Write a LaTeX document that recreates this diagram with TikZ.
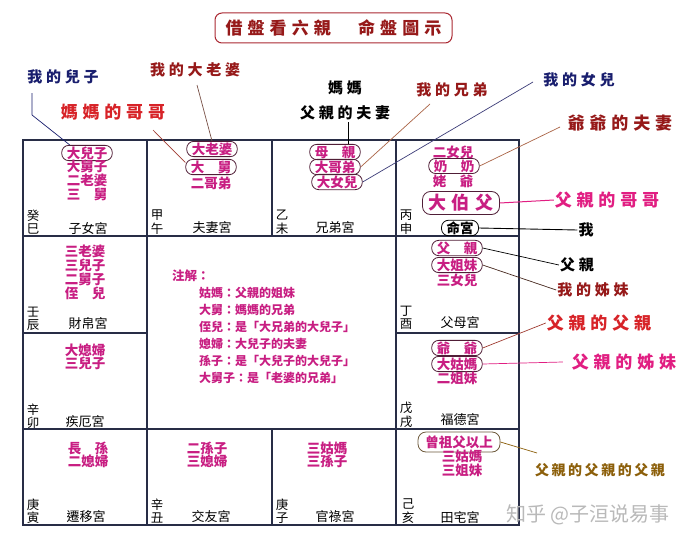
\documentclass[tikz,border=0pt]{standalone}
\usepackage{fontspec}
\setmainfont{Noto Sans CJK TC}
\usetikzlibrary{calc}
\definecolor{gridc}{RGB}{40,45,70}
\definecolor{kinc}{RGB}{200,30,130}
\definecolor{ovalc}{RGB}{80,30,55}
\definecolor{navyc}{RGB}{25,30,110}
\definecolor{dredc}{RGB}{150,25,25}
\definecolor{redc}{RGB}{215,35,40}
\definecolor{magc}{RGB}{225,30,130}
\definecolor{olivec}{RGB}{140,95,10}
\definecolor{wmc}{RGB}{185,185,185}
\definecolor{brownl}{RGB}{170,100,70}
\definecolor{titlec}{RGB}{170,40,50}
\definecolor{redl}{RGB}{160,60,50}
\definecolor{grayl}{RGB}{120,80,70}
\definecolor{navyl}{RGB}{60,60,120}
\definecolor{darkl}{RGB}{70,40,30}
\definecolor{zengc}{RGB}{110,90,60}
\tikzset{
 gridline/.style={draw=gridc, line width=1.4pt},
 stem/.style={font=\fontsize{12.5}{13.5}\selectfont, align=center, inner sep=0pt},
 palace/.style={font=\fontsize{13}{14}\selectfont, inner sep=0pt},
 kin/.style={font=\fontsize{13.5}{14}\selectfont\bfseries, text=kinc, inner sep=0pt},
 oval/.style={kin, draw=ovalc, line width=0.8pt, rounded corners=7pt, inner xsep=5pt, inner ysep=1.2pt},
 note/.style={font=\fontsize{12}{13}\selectfont\bfseries, text=kinc, anchor=west, inner sep=0pt},
 lbl/.style={font=\fontsize{15}{16}\selectfont\bfseries\addfontfeatures{LetterSpace=25}, inner sep=1pt},
 biglbl/.style={font=\fontsize{17}{18}\selectfont\bfseries\addfontfeatures{LetterSpace=28}, inner sep=1pt},
 lead/.style={line width=0.7pt},
}
\begin{document}
\begin{tikzpicture}[x=1pt,y=-1pt]
\useasboundingbox (0,0) rectangle (690,543);
\fill[white] (0,0) rectangle (690,543);
% title
\node[draw=titlec, line width=1pt, rounded corners=7pt, minimum width=237pt, minimum height=30pt, text=dredc, font=\fontsize{17}{18}\selectfont\bfseries\addfontfeatures{LetterSpace=30}] (title) at (333.5,28) {借盤看六親　命盤圖示};
% grid
\draw[gridline] (23,140) rectangle (519,525);
\draw[gridline] (23,236) -- (519,236);
\draw[gridline] (23,429) -- (519,429);
\draw[gridline] (23,333) -- (147,333);
\draw[gridline] (396,333) -- (519,333);
\draw[gridline] (147,140) -- (147,525);
\draw[gridline] (396,140) -- (396,525);
\draw[gridline] (272,140) -- (272,236);
\draw[gridline] (272,429) -- (272,525);
% stems
\node[stem] (s1) at (33,222) {癸\\巳};
\node[stem] (s2) at (157,222) {甲\\午};
\node[stem] (s3) at (282,222) {乙\\未};
\node[stem] (s4) at (406,222) {丙\\申};
\node[stem] (s5) at (33,319) {壬\\辰};
\node[stem] (s6) at (406,318) {丁\\酉};
\node[stem] (s7) at (33,416) {辛\\卯};
\node[stem] (s8) at (406,415) {戊\\戌};
\node[stem] (s9) at (33,511) {庚\\寅};
\node[stem] (s10) at (157,511) {辛\\丑};
\node[stem] (s11) at (282,511) {庚\\子};
\node[stem] (s12) at (408,511) {己\\亥};
% palaces
\node[palace] (p1) at (88,228) {子女宮};
\node[palace] (p2) at (212,228) {夫妻宮};
\node[palace] (p3) at (335,228) {兄弟宮};
\node[palace] (p5) at (88,324) {財帛宮};
\node[palace] (p6) at (460,323) {父母宮};
\node[palace] (p7) at (85,422) {疾厄宮};
\node[palace] (p8) at (460,420) {福德宮};
\node[palace] (p9) at (86,517) {遷移宮};
\node[palace] (p10) at (211,517) {交友宮};
\node[palace] (p11) at (335,517) {官祿宮};
\node[palace] (p12) at (460,517) {田宅宮};
% cell 巳
\node[oval] (o_erzi) at (87,153) {大兒子};
\node[kin] (k1b) at (87,166) {大舅子};
\node[kin] (k1c) at (87,180) {二老婆};
\node[kin] (k1d) at (87,194) {三　舅};
% cell 午
\node[oval] (o_laopo) at (212,149) {大老婆};
\node[oval] (o_dajiu) at (211,167) {大　舅};
\node[kin] (k2c) at (211,183) {二哥弟};
% cell 未
\node[oval] (o_muqin) at (335,152) {母　親};
\node[oval] (o_dage) at (335,167) {大哥弟};
\node[oval] (o_nver) at (337,182) {大女兒};
% cell 申
\node[kin] (k4a) at (453,152) {二女兒};
\node[oval] (o_nainai) at (454,166) {奶　奶};
\node[kin] (k4c) at (453,181) {姥　爺};
\node[draw=ovalc, line width=0.8pt, rounded corners=8pt, minimum width=77pt, minimum height=23pt, inner sep=0pt, text=kinc, font=\fontsize{18}{19}\selectfont\bfseries\addfontfeatures{LetterSpace=30}] (b_bobo) at (461,203) {大伯父};
\node[oval, text=black, draw=black] (o_ming) at (460,228) {命宮};
% cell 辰
\node[kin] (k5a) at (85,251) {三老婆};
\node[kin] (k5b) at (85,265) {三兒子};
\node[kin] (k5c) at (85,279) {二舅子};
\node[kin] (k5d) at (85,293) {侄　兒};
% cell 卯
\node[kin] (k7a) at (85,350) {大媳婦};
\node[kin] (k7b) at (85,363) {三兒子};
% cell 酉
\node[oval] (o_fu) at (457,248) {父　親};
\node[oval] (o_jiemei) at (457,265) {大姐妹};
\node[kin] (k6c) at (457,280) {三女兒};
% cell 戌
\node[oval] (o_yeye) at (457,348) {爺　爺};
\node[oval] (o_dagu) at (457,364) {大姑媽};
\node[kin] (k8c) at (457,378) {二姐妹};
% bottom row
\node[kin] (k9a) at (88,448) {長　孫};
\node[kin] (k9b) at (88,461) {二媳婦};
\node[kin] (k10a) at (207,448) {二孫子};
\node[kin] (k10b) at (207,461) {三媳婦};
\node[kin] (k11a) at (327,448) {三姑媽};
\node[kin] (k11b) at (327,461) {三孫子};
\node[kin, draw=zengc, line width=0.8pt, rounded corners=8pt, minimum width=82pt, minimum height=20pt, inner sep=0pt] (b_zeng) at (459,442) {曾祖父以上};
\node[kin] (k12b) at (462,456) {三姑媽};
\node[kin] (k12c) at (462,470) {三姐妹};
% notes
\node[note, font=\fontsize{12.5}{13}\selectfont\bfseries] (n0) at (172,276) {注解：};
\node[note] (n1) at (199,293) {姑媽：父親的姐妹};
\node[note] (n2) at (199,310) {大舅：媽媽的兄弟};
\node[note] (n3) at (199,327) {侄兒：是「大兄弟的大兒子」};
\node[note] (n4) at (199,344) {媳婦：大兒子的夫妻};
\node[note] (n5) at (199,361) {孫子：是「大兒子的大兒子」};
\node[note] (n6) at (199,378) {大舅子：是「老婆的兄弟」};
% labels
\node[lbl, text=navyc] (lblErzi) at (63,77) {我的兒子};
\node[lbl, text=dredc] (lblLaopo) at (195,70) {我的大老婆};
\node[biglbl, text=redc] (lblJiujiu) at (113,112) {媽媽的哥哥};
\node[lbl, text=black] (lblMama) at (345,88) {媽媽};
\node[lbl, text=black] (lblFuqi) at (345,113) {父親的夫妻};
\node[lbl, text=dredc] (lblXiongdi) at (452,90) {我的兄弟};
\node[lbl, text=navyc] (lblNver) at (579,80) {我的女兒};
\node[biglbl, text=dredc] (lblYeye) at (620,123) {爺爺的夫妻};
\node[biglbl, text=magc] (lblBobo) at (607,200) {父親的哥哥};
\node[lbl, text=black] (lblWo) at (586,230) {我};
\node[lbl, text=black] (lblFu) at (577,265) {父親};
\node[lbl, text=dredc] (lblJiemei) at (593,290) {我的姊妹};
\node[biglbl, text=redc] (lblZufu) at (599,323) {父親的父親};
\node[biglbl, text=magc] (lblGu) at (624,362) {父親的姊妹};
\node[font=\fontsize{14}{15}\selectfont\bfseries\addfontfeatures{LetterSpace=18}, text=olivec, inner sep=1pt] (lblZeng) at (600,470) {父親的父親的父親};
\node[font=\fontsize{20}{21}\selectfont, text=wmc, inner sep=0pt] (wm) at (588,515) {知乎 @子洹说易事};
% leader lines
\coordinate (c_ez1) at (32,93);
\coordinate (c_ez2) at (32,115);
\draw[lead, navyc] (c_ez1) -- (c_ez2) -- (o_erzi.155);
\coordinate (c_jj) at (153,130);
\draw[lead, redl] (c_jj) -- (o_dajiu.170);
\coordinate (c_lp) at (197,85);
\draw[lead, grayl] (c_lp) -- (o_laopo.north);
\coordinate (c_fq) at (348,122);
\draw[lead, black] (c_fq) -- (c_fq |- o_muqin.north);
\coordinate (c_xd) at (430,104);
\draw[lead, brownl] (c_xd) -- (o_dage.east);
\coordinate (c_nv) at (533,82);
\draw[lead, navyl] (c_nv) -- (o_nver.east);
\coordinate (c_yy) at (560,127);
\draw[lead, brownl] (c_yy) -- (o_nainai.east);
\draw[lead, magc, line width=1pt] (b_bobo.east) -- (lblBobo.west);
\draw[lead, black, line width=0.9pt] (o_ming.east) -- (lblWo.west);
\draw[lead, black] (o_fu.east) -- (lblFu.west);
\draw[lead, darkl] (o_jiemei.east) -- (lblJiemei.west);
\draw[lead, redl] (o_yeye.east) -- (lblZufu.west);
\draw[lead, magc] (o_dagu.east) -- ([xshift=-8pt]lblGu.west);
\coordinate (c_zg) at (537,453);
\draw[lead, olivec] (b_zeng.east) -- (c_zg);
\end{tikzpicture}
\end{document}
